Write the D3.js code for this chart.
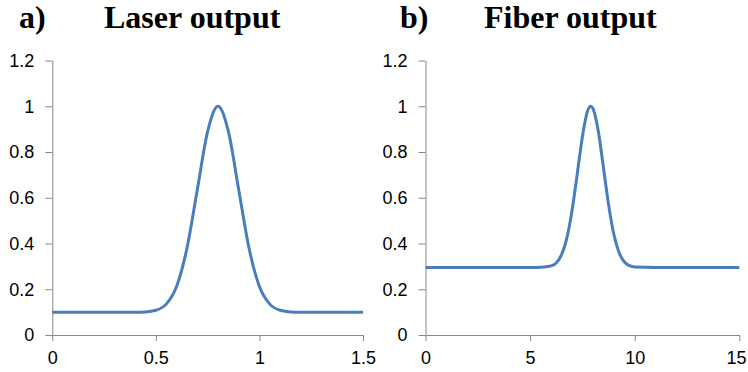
<!DOCTYPE html>
<html>
<head>
<meta charset="utf-8">
<script src="https://cdn.jsdelivr.net/npm/d3@7"></script>
<style>
  body { margin: 0; background: #fff; }
  .axis path, .axis line { stroke: #888; }
  .axis text { font-family: "Liberation Sans", Arial, sans-serif; font-size: 18px; fill: #000; }
  .title { font-family: "Liberation Serif", "Times New Roman", serif; font-weight: bold; font-size: 32px; }
</style>
</head>
<body>
<div id="chart"></div>
<script>
const w = 748, h = 372;

// laser output (x in arbitrary units, 0..1.5)
var laserX = [0, 0.1, 0.2, 0.3, 0.4, 0.45, 0.5, 0.55, 0.6, 0.65, 0.7, 0.75, 0.8,
              0.85, 0.9, 0.95, 1.0, 1.05, 1.1, 1.15, 1.2, 1.3, 1.4, 1.5];
var laserY = [0.1, 0.1, 0.1, 0.1, 0.1, 0.101, 0.108, 0.135, 0.212, 0.379, 0.635, 0.89, 1.0,
              0.89, 0.635, 0.379, 0.212, 0.135, 0.108, 0.101, 0.1, 0.1, 0.1, 0.1];

// fiber output (x 0..15)
var fiberX = [0, 1, 2, 3, 4, 5, 5.5, 6, 6.25, 6.5, 6.75, 7, 7.25, 7.5, 7.75, 7.9,
              8, 8.25, 8.5, 8.75, 9, 9.25, 9.5, 9.75, 10, 11, 12, 13, 14, 15];
var fiberY = [0.295, 0.295, 0.295, 0.295, 0.295, 0.295, 0.296, 0.302, 0.315, 0.35, 0.421, 0.541, 0.702, 0.867, 0.98, 1.0,
              0.991, 0.896, 0.736, 0.571, 0.441, 0.361, 0.32, 0.303, 0.297, 0.295, 0.295, 0.295, 0.295, 0.295];

var yTicks = [0, 0.2, 0.4, 0.6, 0.8, 1, 1.2];
var laserTicks = [0, 0.5, 1, 1.5];
var fiberTicks = [0, 5, 10, 15];

var svg = d3.select("#chart").append("svg")
    .attr("width", w)
    .attr("height", h);

function panel(opts) {
    var x = d3.scaleLinear().domain([opts.ticks[0], opts.ticks[opts.ticks.length - 1]]).range([opts.x0, opts.x1]);
    var y = d3.scaleLinear().domain([0, 1.2]).range([335, 60.5]);

    svg.append("g")
        .attr("class", "axis")
        .attr("transform", "translate(" + opts.x0 + ",0)")
        .call(d3.axisLeft(y).tickValues(yTicks).tickSize(7).tickSizeOuter(0).tickPadding(11)
            .tickFormat(function(d) { return String(d); }));

    var xAxis = svg.append("g")
        .attr("class", "axis")
        .attr("transform", "translate(0,335)")
        .call(d3.axisBottom(x).tickValues(opts.ticks).tickSize(6).tickSizeOuter(0).tickPadding(10)
            .tickFormat(function(d) { return String(d); }));

    // like excel, keep the last label inside the picture
    xAxis.selectAll(".tick text").each(function() {
        var t = d3.select(this);
        var b = this.getBBox();
        var tx = x(d3.select(this.parentNode).datum());
        var over = tx + b.x + b.width - (w - 2);
        if (over > 0) t.attr("x", -over);
    });

    var pts = opts.xs.map(function(v, i) { return [v, opts.ys[i]]; });
    svg.append("path")
        .datum(pts)
        .attr("fill", "none")
        .attr("stroke", "#4a7ebb")
        .attr("stroke-width", 3)
        .attr("stroke-linejoin", "round")
        .attr("d", d3.line()
            .x(function(d) { return x(d[0]); })
            .y(function(d) { return y(d[1]); })
            .curve(d3.curveMonotoneX));

    svg.append("text").attr("class", "title")
        .attr("x", opts.labelX).attr("y", 28).text(opts.label);
    svg.append("text").attr("class", "title")
        .attr("x", opts.titleX).attr("y", 28).text(opts.title);
}

panel({ x0: 52.3, x1: 363, ticks: laserTicks, xs: laserX, ys: laserY,
        label: "a)", labelX: 19, title: "Laser output", titleX: 104 });
panel({ x0: 425.5, x1: 739.3, ticks: fiberTicks, xs: fiberX, ys: fiberY,
        label: "b)", labelX: 400, title: "Fiber output", titleX: 484 });
</script>
</body>
</html>
